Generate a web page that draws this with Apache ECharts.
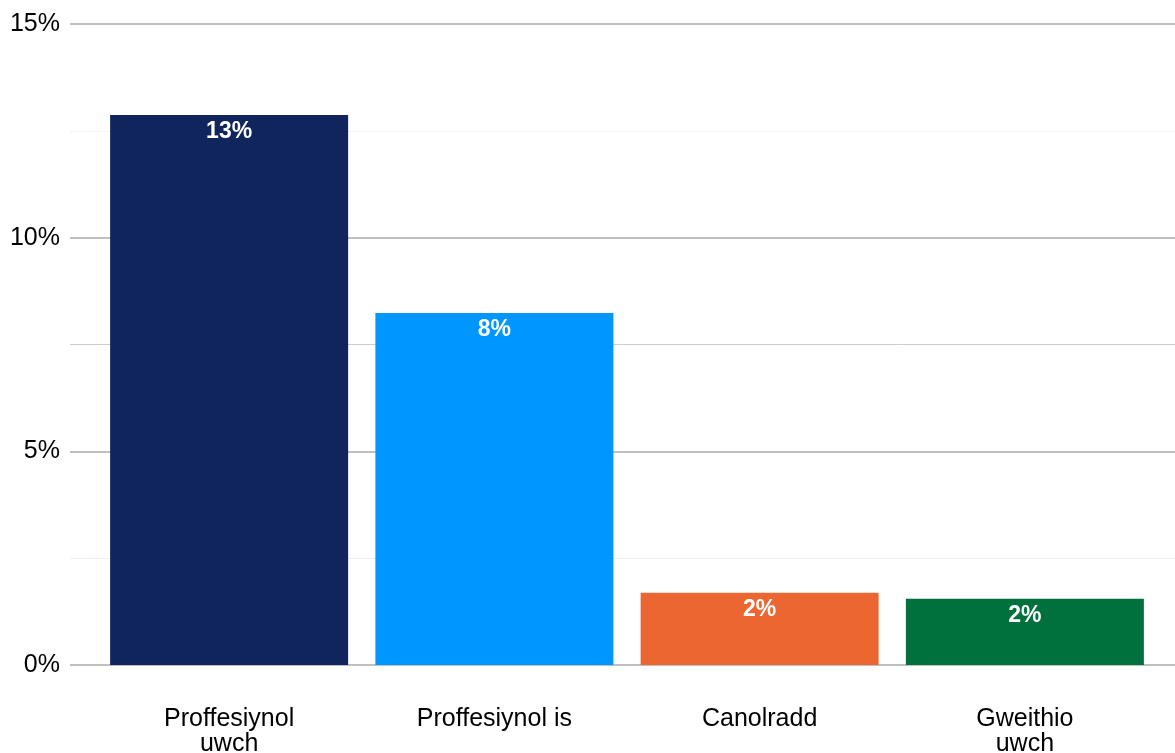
<!DOCTYPE html>
<html>
<head>
<meta charset="utf-8">
<script src="https://cdn.jsdelivr.net/npm/echarts@6/dist/echarts.min.js"></script>
<style>html,body{margin:0;padding:0;background:#fff}#c{width:1175px;height:753px}</style>
</head>
<body>
<div id="c"></div>
<script>
const categories = ['Proffesiynol\nuwch', 'Proffesiynol is', 'Canolradd', 'Gweithio\nuwch'];
const values = [12.87, 8.24, 1.69, 1.55];
const labels = ['13%', '8%', '2%', '2%'];
const colors = ['#10255c', '#0096ff', '#eb6631', '#00703c'];
const yTicks = [0, 5, 10, 15];

const chart = echarts.init(document.getElementById('c'));
const font = 'Liberation Sans, Arial, sans-serif';
chart.setOption({
  animation: false,
  grid: [
    {left: 70, right: 0, top: 24, bottom: 88, outerBoundsMode: 'none', containLabel: false},
    {left: 70, right: 0, top: 24, bottom: 88, outerBoundsMode: 'none', containLabel: false},
    {left: 96.5, right: 17.5, top: 24, bottom: 88, outerBoundsMode: 'none', containLabel: false}
  ],
  xAxis: [
    {gridIndex: 0, type: 'value', show: false},
    {gridIndex: 1, type: 'value', show: false},
    {gridIndex: 2, type: 'category', data: categories,
     axisLine: {show: false}, axisTick: {show: false},
     axisLabel: {fontSize: 25, lineHeight: 25, color: '#000', fontFamily: font, margin: 42, interval: 0}}
  ],
  yAxis: [
    {gridIndex: 0, type: 'value', min: 0, max: 15, interval: 5,
     axisLine: {show: false}, axisTick: {show: false},
     axisLabel: {fontSize: 25, color: '#000', fontFamily: font, margin: 10, padding: [5, 0, 0, 0],
       formatter: v => yTicks.includes(v) ? v + '%' : ''},
     splitLine: {lineStyle: {color: '#c0c0c0', width: 2}}},
    {gridIndex: 1, type: 'value', min: 0, max: 15, interval: 2.5,
     axisLine: {show: false}, axisTick: {show: false}, axisLabel: {show: false},
     splitLine: {lineStyle: {width: 1, color: ['rgba(0,0,0,0)', '#f0f0f0', 'rgba(0,0,0,0)', '#cccccc', 'rgba(0,0,0,0)', '#f3f3f3', 'rgba(0,0,0,0)']}}},
    {gridIndex: 2, type: 'value', min: 0, max: 15, show: false, splitLine: {show: false}}
  ],
  series: [{
    type: 'bar', xAxisIndex: 2, yAxisIndex: 2,
    barWidth: 238,
    data: values.map((v, i) => ({value: v, itemStyle: {color: colors[i]},
      label: {formatter: labels[i]}})),
    label: {show: true, position: 'insideTop', distance: 5, color: '#fff',
      fontSize: 23, fontWeight: 'bold', fontFamily: font}
  }]
});
</script>
</body>
</html>
